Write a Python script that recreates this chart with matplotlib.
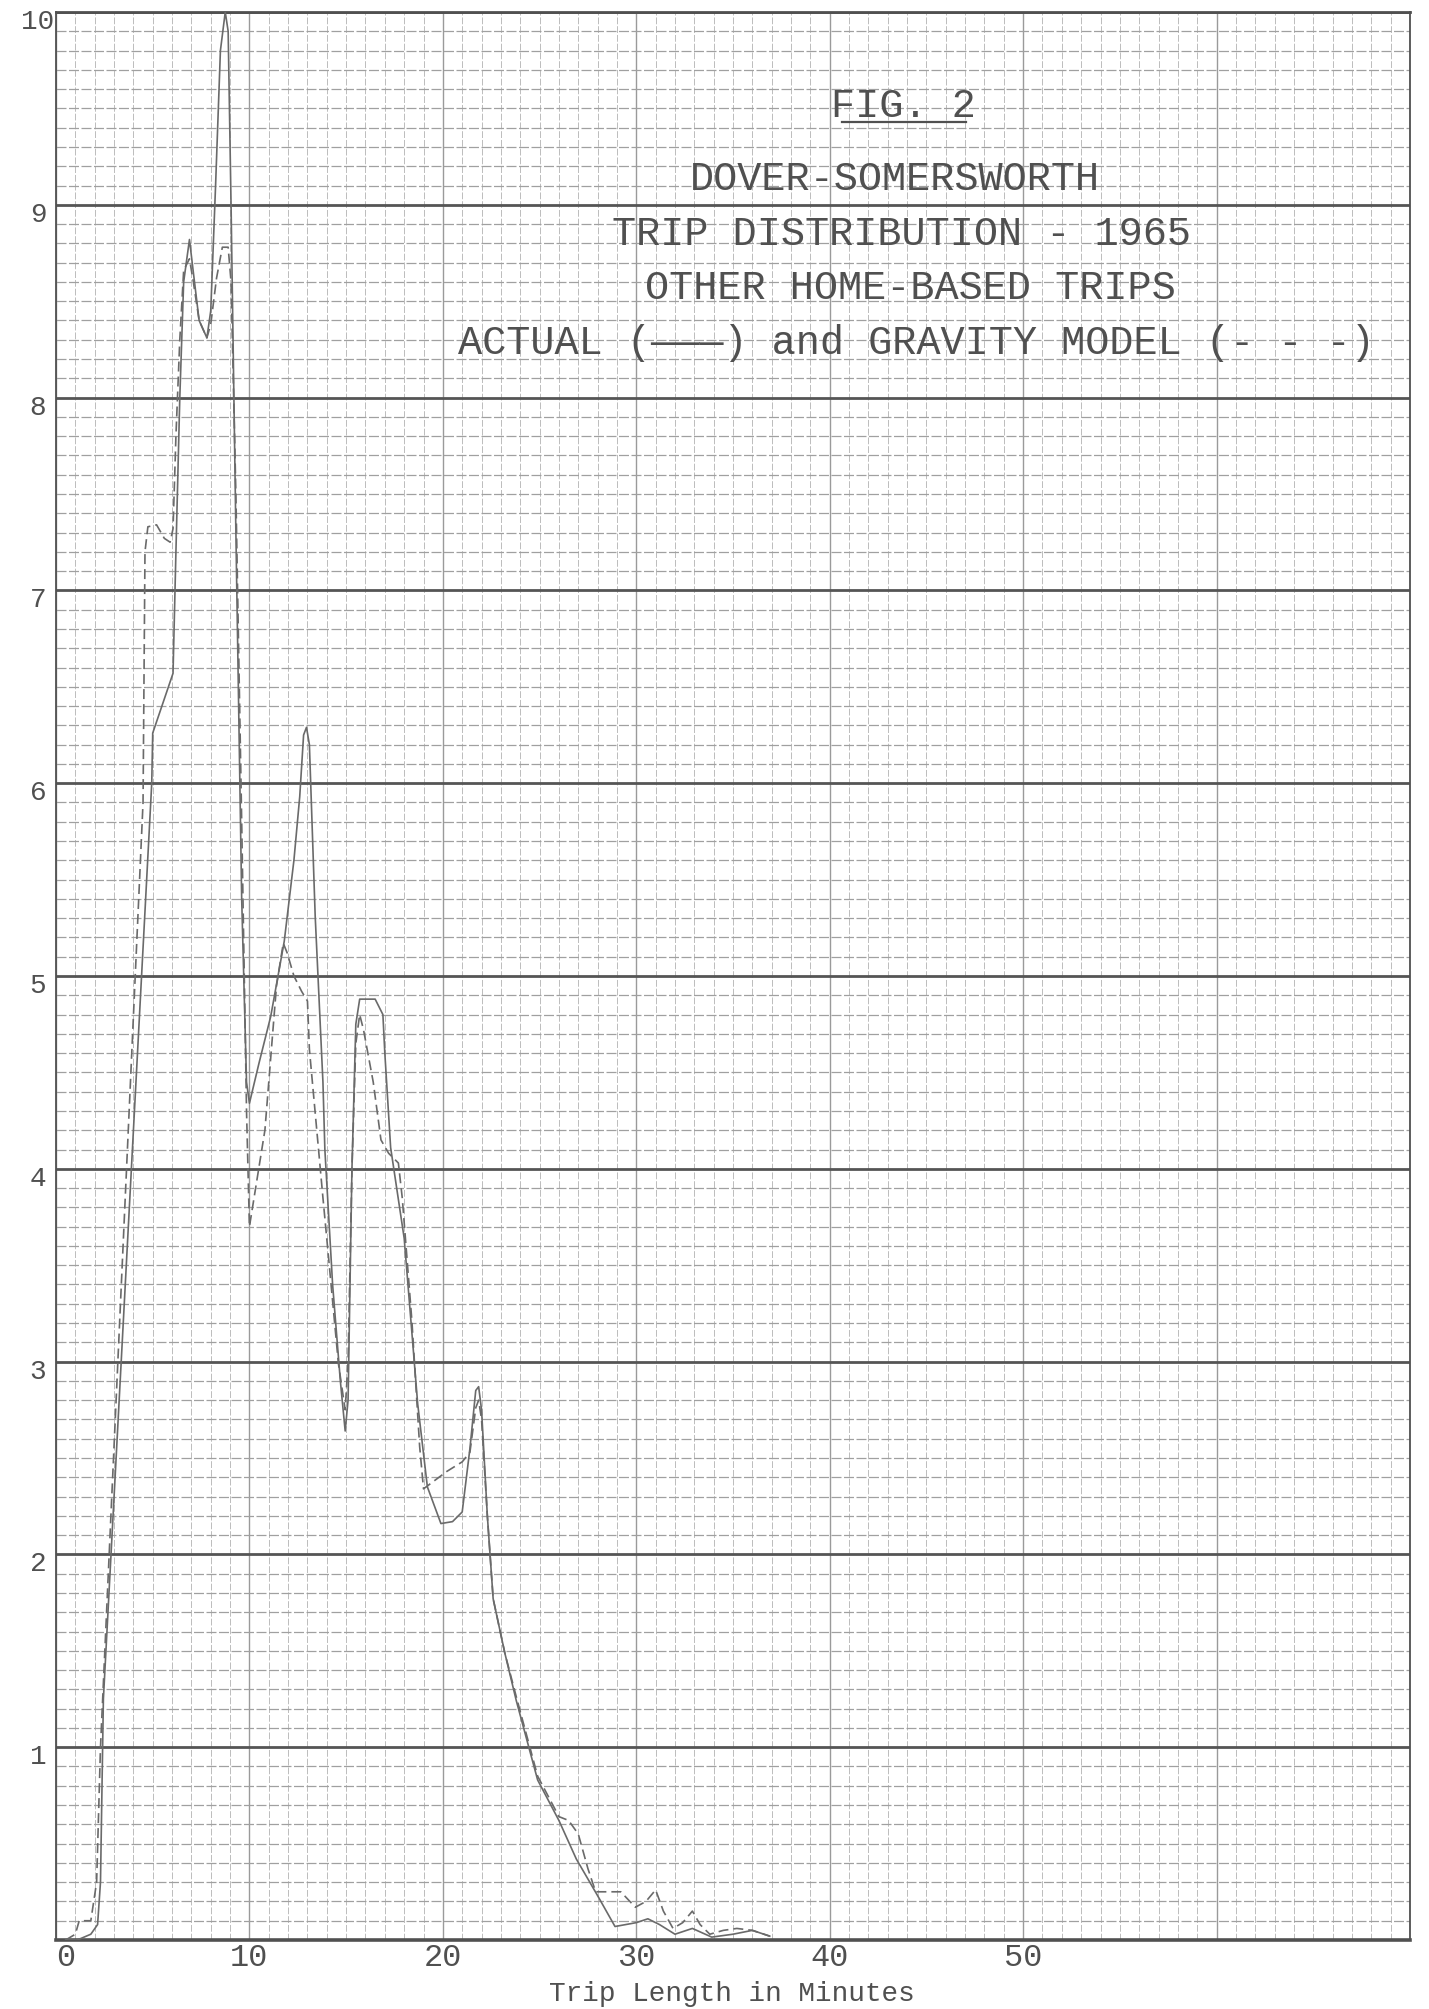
import matplotlib
matplotlib.use("Agg")
import matplotlib.pyplot as plt
import matplotlib.transforms as mtransforms
from matplotlib.lines import Line2D
import numpy as np

# ---------------- data ----------------
minutes_actual = [0.5, 1.1, 1.8, 2.15, 2.3, 2.45, 4.95, 5.0, 6.05, 6.2, 6.4, 6.6, 6.9, 7.1,
                  7.4, 7.8, 8.0, 8.25, 8.5, 8.75, 8.9, 9.05, 9.3, 9.6, 9.85, 10.0, 10.5,
                  11.1, 11.8, 12.3, 12.6, 12.8, 12.95, 13.1, 13.4, 13.8, 13.9, 14.3, 14.7,
                  14.95, 15.1, 15.3, 15.5, 15.7, 16.5, 16.9, 17.0, 17.3, 18.0, 18.7, 19.2,
                  19.9, 20.5, 21.0, 21.4, 21.7, 21.85, 22.0, 22.3, 22.6, 23.2, 23.8, 24.9,
                  26.0, 26.9, 28.0, 28.9, 30.0, 30.6, 31.2, 32.0, 32.9, 33.9, 35.0, 36.0, 36.9]
trips_actual = [0.0, 0.0, 0.03, 0.08, 0.3, 1.25, 6.0, 6.26, 6.57, 7.2, 8.0, 8.6, 8.82, 8.65,
                8.4, 8.31, 8.45, 9.1, 9.8, 10.0, 9.9, 9.0, 7.3, 5.4, 4.45, 4.34, 4.55,
                4.79, 5.18, 5.6, 5.93, 6.25, 6.29, 6.2, 5.31, 4.45, 4.1, 3.4, 2.9,
                2.64, 2.8, 4.0, 4.75, 4.88, 4.88, 4.8, 4.6, 4.11, 3.64, 2.78, 2.35,
                2.16, 2.17, 2.22, 2.55, 2.85, 2.87, 2.75, 2.2, 1.77, 1.49, 1.24, 0.83,
                0.62, 0.42, 0.23, 0.07, 0.09, 0.11, 0.08, 0.03, 0.06, 0.015, 0.03, 0.05, 0.02]

minutes_model = [0.5, 1.0, 1.2, 1.8, 2.1, 2.3, 4.5, 4.6, 4.75, 5.2, 5.6, 5.9, 6.05, 6.2,
                 6.4, 6.6, 6.9, 7.1, 7.4, 7.8, 8.0, 8.3, 8.6, 8.9, 9.05, 9.3, 9.6, 9.85,
                 10.0, 10.8, 11.4, 11.75, 11.95, 12.3, 12.7, 13.0, 13.1, 13.8, 14.1, 14.6,
                 14.95, 15.1, 15.3, 15.5, 15.7, 15.9, 16.4, 16.8, 17.2, 17.7, 17.9, 18.4,
                 18.8, 19.0, 20.2, 21.0, 21.4, 21.7, 21.85, 22.0, 22.3, 22.6, 23.2, 23.8,
                 24.9, 26.0, 26.5, 27.0, 27.5, 27.9, 29.2, 29.95, 30.5, 31.0, 31.4, 31.9,
                 32.4, 32.9, 33.3, 33.8, 34.5, 35.2, 36.0, 36.9]
trips_model = [0.0, 0.03, 0.10, 0.10, 0.3, 1.0, 5.9, 7.2, 7.33, 7.34, 7.27, 7.25, 7.32, 7.8,
               8.3, 8.66, 8.72, 8.6, 8.4, 8.31, 8.38, 8.62, 8.78, 8.78, 8.6, 7.5, 5.8, 4.3,
               3.70, 4.2, 4.95, 5.17, 5.12, 5.0, 4.92, 4.87, 4.62, 3.85, 3.53, 2.99,
               2.75, 3.0, 4.0, 4.65, 4.80, 4.72, 4.45, 4.15, 4.08, 4.03, 3.85, 3.21,
               2.56, 2.34, 2.43, 2.48, 2.53, 2.76, 2.80, 2.7, 2.2, 1.77, 1.49, 1.26,
               0.85, 0.64, 0.62, 0.55, 0.37, 0.25, 0.25, 0.17, 0.2, 0.26, 0.15, 0.06,
               0.09, 0.15, 0.08, 0.03, 0.05, 0.06, 0.05, 0.02]

x_ticks = [0, 10, 20, 30, 40, 50, 60, 70]
x_tick_labels = ["0", "10", "20", "30", "40", "50", "", ""]
y_ticks = [0, 1, 2, 3, 4, 5, 6, 7, 8, 9, 10]
y_tick_labels = ["", "1", "2", "3", "4", "5", "6", "7", "8", "9", "10"]

title_lines = ["FIG. 2",
               "DOVER-SOMERSWORTH",
               "TRIP DISTRIBUTION - 1965",
               "OTHER HOME-BASED TRIPS",
               "ACTUAL (\u2014\u2014\u2014) and GRAVITY MODEL (- - -)"]
x_label = "Trip Length in Minutes"

# ---------------- figure ----------------
W, H = 1429, 2009
fig = plt.figure(figsize=(W / 100, H / 100), dpi=100)
fig.patch.set_facecolor("white")
ax = fig.add_axes([56 / W, 1 - 1940 / H, 1354 / W, 1928 / H])
ax.set_xlim(0, 70)
ax.set_ylim(0, 10)
ax.set_facecolor("white")
ax.set_axisbelow(True)

mono = "Liberation Mono"
ink = "#505050"

ax.set_xticks(x_ticks)
ax.set_xticklabels(x_tick_labels, fontfamily=mono, fontsize=23, color=ink)
ax.set_xticks(np.arange(0, 71, 1), minor=True)
ax.set_yticks(y_ticks)
ax.set_yticklabels(y_tick_labels, fontfamily=mono, fontsize=20, color=ink,
                   ha="center", va="center")
ax.set_yticks(np.arange(0, 10.001, 0.1), minor=True)
ax.tick_params(which="both", length=0)
ax.tick_params(axis="y", pad=13)
ax.tick_params(axis="x", pad=2)

# graph-paper rulings
ax.grid(which="minor", axis="y", color="#a0a0a0", lw=0.9, ls=(0, (8, 2)))
ax.grid(which="minor", axis="x", color="#bcbcbc", lw=0.7, ls=(0, (7, 2)))
ax.grid(which="major", axis="y", color="#555555", lw=2.0)
ax.grid(which="major", axis="x", color="#9a9a9a", lw=1.0)

for side, lw in (("top", 2.0), ("bottom", 2.6), ("left", 1.3), ("right", 1.3)):
    ax.spines[side].set_color("#505050")
    ax.spines[side].set_linewidth(lw)

# shift y labels slightly below their rulings, and the "0" label right
off_y = mtransforms.ScaledTranslation(0, -0.10, fig.dpi_scale_trans)
for lab in ax.get_yticklabels():
    lab.set_transform(lab.get_transform() + off_y)
xl = ax.get_xticklabels()
xl[0].set_transform(xl[0].get_transform() +
                    mtransforms.ScaledTranslation(0.10, 0, fig.dpi_scale_trans))

# curves
ax.plot(minutes_actual, trips_actual, color="#6a6a6a", lw=1.2, solid_joinstyle="round",
        zorder=3)
ax.plot(minutes_model, trips_model, color="#6a6a6a", lw=1.2, ls=(0, (6, 3)),
        zorder=3)

# title block (typewritten)
pos = [(903, 106), (895, 179), (902, 234), (910, 288), (916, 343)]
for txt, (px, py) in zip(title_lines, pos):
    fig.text(px / W, 1 - py / H, txt, fontfamily=mono, fontsize=29, color=ink,
             ha="center", va="center")
fig.add_artist(Line2D([842 / W, 966 / W], [1 - 122 / H, 1 - 122 / H],
                      color=ink, lw=1.6, transform=fig.transFigure))

# axis title, cut off by the page edge as in the scan
fig.text(732 / W, 1 - 2001 / H, x_label, fontfamily=mono, fontsize=20, color=ink,
         ha="center", va="baseline")

fig.savefig("out.png", dpi=100, facecolor="white")
